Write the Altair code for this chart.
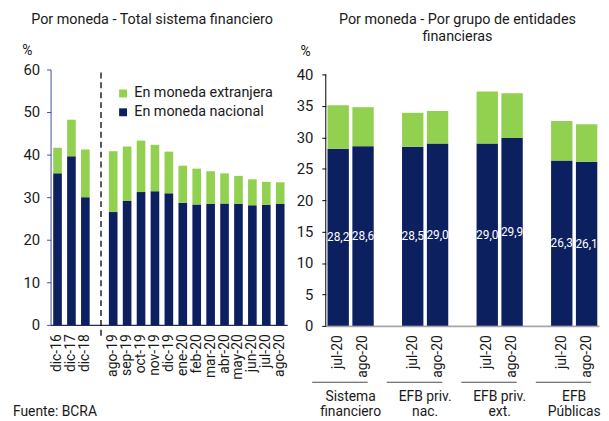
import altair as alt
import pandas as pd

EXT = "En moneda extranjera"
NAC = "En moneda nacional"
GREEN = "#92d050"
NAVY = "#0c2060"
TXT = "#1a1a1a"

# ---- left panel data ----
left_cats = ["dic-16", "dic-17", "dic-18", "ago-19", "sep-19", "oct-19", "nov-19", "dic-19",
             "ene-20", "feb-20", "mar-20", "abr-20", "may-20", "jun-20", "jul-20", "ago-20"]
left_nac = [35.6, 39.6, 30.0, 26.5, 29.1, 31.2, 31.4, 30.9, 28.7, 28.3, 28.4, 28.5, 28.4, 28.1, 28.2, 28.4]
left_ext = [6.0, 8.6, 11.2, 14.3, 12.8, 12.1, 10.9, 9.8, 8.7, 8.4, 7.7, 7.1, 6.6, 6.1, 5.4, 5.1]

# ---- right panel data ----
right_groups = ["Sistema financiero", "EFB priv. nac.", "EFB priv. ext.", "EFB Públicas"]
right_group_text = ["Sistema\nfinanciero", "EFB priv.\nnac.", "EFB priv.\next.", "EFB\nPúblicas"]
right_months = ["jul-20", "ago-20"]
right_nac = [28.2, 28.6, 28.5, 29.0, 29.0, 29.9, 26.3, 26.1]
right_ext = [6.9, 6.2, 5.4, 5.2, 8.3, 7.1, 6.3, 6.0]

color_scale = alt.Scale(domain=[EXT, NAC], range=[GREEN, NAVY])
FS = 14.5

# ---------------- LEFT ----------------
W1, H1 = 239, 258
gap = " "
left_domain = left_cats[:3] + [gap] + left_cats[3:]
rows = []
for c, n, e in zip(left_cats, left_nac, left_ext):
    rows.append({"key": c, "series": NAC, "value": n, "ord": 0})
    rows.append({"key": c, "series": EXT, "value": e, "ord": 1})
df_l = pd.DataFrame(rows)

xl_scale = alt.Scale(domain=left_domain, paddingInner=0.38, paddingOuter=0.19)
yl_scale = alt.Scale(domain=[0, 60], nice=False)
yl_axis = alt.Axis(values=[0, 10, 20, 30, 40, 50, 60], title="%", titleAngle=0,
                   titleX=-24, titleY=-19, titleAlign="center", titleBaseline="middle",
                   titleFontSize=14, titleFontWeight="normal", titleColor=TXT,
                   labelFontSize=15, labelColor=TXT, domainColor="#3b5197",
                   tickColor="#3b5197", tickSize=4, labelPadding=7, grid=False,
                   labelOverlap=False)

bars_l = alt.Chart(df_l).mark_bar().encode(
    x=alt.X("key:N", scale=xl_scale, sort=left_domain,
            axis=alt.Axis(title=None, labelAngle=-90, ticks=False, labelPadding=9,
                          domainColor="#1f2d5c", domainWidth=1.2, labelFontSize=14,
                          labelColor=TXT)),
    y=alt.Y("value:Q", stack="zero", scale=yl_scale, axis=yl_axis),
    color=alt.Color("series:N", scale=color_scale,
                    legend=alt.Legend(orient="none", legendX=66, legendY=17, title=None,
                                      symbolType="square", symbolSize=64, symbolStrokeWidth=0,
                                      labelFontSize=FS, labelColor=TXT, rowPadding=4,
                                      padding=0, labelOffset=4)),
    order=alt.Order("ord:Q"),
)

dash_l = alt.Chart(pd.DataFrame({"key": [gap]})).mark_rule(
    color="black", strokeDash=[6, 4], strokeWidth=1.3
).encode(
    x=alt.X("key:N", scale=xl_scale, bandPosition=0.7),
    y=alt.YDatum(datum=59.3, type="quantitative", scale=yl_scale, axis=yl_axis),
    y2=alt.value(H1 + 11),
)

fuente = alt.Chart(pd.DataFrame({"t": ["Fuente: BCRA"]})).mark_text(
    align="left", baseline="middle", fontSize=14, color=TXT
).encode(text="t:N", x=alt.value(-38), y=alt.value(346))

left = alt.layer(bars_l, dash_l, fuente).properties(
    width=W1, height=H1,
    title=alt.Title("Por moneda - Total sistema financiero", fontSize=FS, fontWeight="normal",
                    color=TXT, dx=-17, offset=16, anchor="middle"),
)

# ---------------- RIGHT ----------------
W2, H2 = 276, 259
right_domain = []
right_keys = []
for i, g in enumerate(right_groups):
    for m in right_months:
        k = f"{g}|{m}"
        right_domain.append(k)
        right_keys.append(k)
    if i < len(right_groups) - 1:
        right_domain.append(f"_gap{i}")

rrows = []
for k, n, e in zip(right_keys, right_nac, right_ext):
    rrows.append({"key": k, "series": NAC, "value": n, "ord": 0})
    rrows.append({"key": k, "series": EXT, "value": e, "ord": 1})
df_r = pd.DataFrame(rrows)

df_lab = pd.DataFrame({
    "key": right_keys,
    "nac": right_nac,
    "lab": [f"{v:.1f}".replace(".", ",") for v in right_nac],
})

df_grp = pd.DataFrame({
    "key": [f"{g}|jul-20" for g in right_groups],
    "txt": right_group_text,
})

pin = 0.14
xr_scale = alt.Scale(domain=right_domain, paddingInner=pin, paddingOuter=pin / 2)
step_r = W2 / len(right_domain)
shift = (0.5 / (1 - pin) - 0.5) * step_r * (1 - pin)

yr_scale = alt.Scale(domain=[0, 40.8], nice=False)
yr_axis = alt.Axis(values=[0, 5, 10, 15, 20, 25, 30, 35, 40], title="%", titleAngle=0,
                   titleX=-21, titleY=-18, titleAlign="center", titleBaseline="middle",
                   titleFontSize=14, titleFontWeight="normal", titleColor=TXT,
                   labelFontSize=15, labelColor=TXT, domain=False, labelOverlap=False,
                   tickColor="black", tickSize=4, labelPadding=9, grid=False)

bars_r = alt.Chart(df_r).mark_bar().encode(
    x=alt.X("key:N", scale=xr_scale, sort=right_domain,
            axis=alt.Axis(title=None, labelAngle=-90, ticks=False, labelPadding=9,
                          domainColor="#a6a6a6", domainWidth=2, labelFontSize=14,
                          labelColor=TXT,
                          labelExpr="indexof(datum.value, '|') >= 0 ? split(datum.value, '|')[1] : ''")),
    y=alt.Y("value:Q", stack="zero", scale=yr_scale, axis=yr_axis),
    color=alt.Color("series:N", scale=color_scale, legend=None),
    order=alt.Order("ord:Q"),
)

yline_r = alt.Chart(pd.DataFrame({"a": [0]})).mark_rule(color="black", strokeWidth=1).encode(
    x=alt.value(0),
    y=alt.YDatum(datum=0, type="quantitative", scale=yr_scale, axis=yr_axis),
    y2=alt.datum(40),
)

labels_r = alt.Chart(df_lab).transform_calculate(mid="datum.nac / 2").mark_text(
    color="white", fontSize=12, baseline="middle", align="center"
).encode(
    x=alt.X("key:N", scale=xr_scale),
    y=alt.Y("mid:Q", scale=yr_scale, axis=yr_axis),
    text="lab:N",
)

grp_line = alt.Chart(df_grp).mark_tick(
    orient="horizontal", size=56, thickness=1, color="black", xOffset=shift
).encode(
    x=alt.X("key:N", scale=xr_scale, bandPosition=1),
    y=alt.value(H2 + 57),
)

grp_text = alt.Chart(df_grp).mark_text(
    lineBreak="\n", fontSize=14, baseline="top", align="center", lineHeight=15, color=TXT,
    xOffset=shift
).encode(
    x=alt.X("key:N", scale=xr_scale, bandPosition=1),
    y=alt.value(H2 + 65),
    text="txt:N",
)

right = alt.layer(bars_r, yline_r, labels_r, grp_line, grp_text).properties(
    width=W2, height=H2,
    title=alt.Title(["Por moneda - Por grupo de entidades", "financieras"], fontSize=FS,
                    fontWeight="normal", color=TXT, dx=-5, offset=0, lineHeight=17,
                    anchor="middle"),
)

chart = alt.hconcat(left, right, spacing=9).resolve_scale(color="independent").properties(
    padding={"left": 5, "top": 2, "right": 0, "bottom": 0}
).configure(font="Roboto").configure_view(stroke=None)

chart.save("out.html", embed_options={"renderer": "svg", "actions": False})
